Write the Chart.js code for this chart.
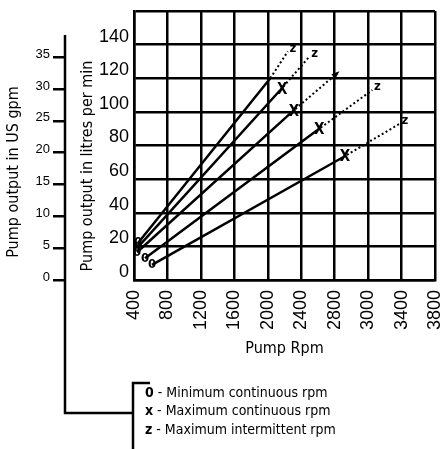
<!DOCTYPE html>
<html lang="en">
<head>
<meta charset="UTF-8">
<title>Pump output vs pump rpm</title>
<script src="https://cdn.jsdelivr.net/npm/chart.js"></script>
<style>
  body { margin: 0; background: #fff; }
  .chart-box { width: 444px; height: 449px; }
</style>
</head>
<body>
<div class="chart-box"><canvas id="pumpChart"></canvas></div>
<script>
// values, one entry per pump line (steepest first)
const minRpm     = [448, 436, 436, 532, 615];
const minLpm     = [22, 19, 16.5, 13, 9];
const maxContRpm = [2030, 2150, 2290, 2590, 2900];
const maxContLpm = [120, 113, 100, 89, 73];
const maxIntRpm  = [2240, 2500, 2830, 3250, 3580];
const maxIntLpm  = [136, 133, 123, 113, 93];

// tick labels as printed, one per grid column of 400 rpm (the printed 3000/3400/3800 are off by 200)
const rpmTicks = ['400', '800', '1200', '1600', '2000', '2400', '2800', '3000', '3400', '3800'];
const lpmTicks = [0, 20, 40, 60, 80, 100, 120, 140];
const gpmTicks = [0, 5, 10, 15, 20, 25, 30, 35];
const LITRES_PER_GALLON = 3.785;

// marks written at the line ends
const markX = ['', 'X', 'X', 'X', 'X'];
const markZ = ['z', 'z', '', 'z', 'z'];
const legendRows = [['0', 'Minimum continuous rpm'], ['x', 'Maximum continuous rpm'], ['z', 'Maximum intermittent rpm']];

const NARROW = "'Liberation Sans Narrow', 'DejaVu Sans Condensed', sans-serif";
const PLAIN = "'Liberation Sans', Arial, sans-serif";

const datasets = minRpm.map((r, i) => ({
    data: [
        { x: r, y: minLpm[i] },
        { x: maxContRpm[i], y: maxContLpm[i] },
        { x: maxIntRpm[i], y: maxIntLpm[i] }
    ],
    borderColor: '#000',
    borderWidth: 2.5,
    pointRadius: 0,
    tension: 0,
    segment: {
        borderDash: ctx => ctx.p0DataIndex === 1 ? [2, 2.5] : undefined,
        borderWidth: ctx => ctx.p0DataIndex === 1 ? 2 : 2.5
    }
}));

// 0 / X / z marks at the points
const markers = {
    id: 'markers',
    afterDatasetsDraw(chart) {
        const ctx = chart.ctx;
        ctx.save();
        ctx.fillStyle = '#000';
        ctx.textAlign = 'center';
        ctx.textBaseline = 'middle';
        chart.data.datasets.forEach((ds, i) => {
            const pts = chart.getDatasetMeta(i).data;
            ctx.font = 'bold 13px ' + NARROW;
            ctx.fillText('0', pts[0].x, pts[0].y);
            ctx.font = 'bold 15px ' + NARROW;
            if (markX[i]) ctx.fillText(markX[i], pts[1].x + 2, pts[1].y);
            ctx.font = 'bold 13px ' + NARROW;
            if (markZ[i]) {
                ctx.fillText(markZ[i], pts[2].x + 5, pts[2].y - 3);
            } else {
                // arrow head instead of a letter
                const a = Math.atan2(pts[2].y - pts[1].y, pts[2].x - pts[1].x);
                ctx.beginPath();
                ctx.moveTo(pts[2].x + 3 * Math.cos(a), pts[2].y + 3 * Math.sin(a));
                ctx.lineTo(pts[2].x - 5 * Math.cos(a) - 3 * Math.sin(a), pts[2].y - 5 * Math.sin(a) + 3 * Math.cos(a));
                ctx.lineTo(pts[2].x - 5 * Math.cos(a) + 3 * Math.sin(a), pts[2].y - 5 * Math.sin(a) - 3 * Math.cos(a));
                ctx.closePath();
                ctx.fill();
            }
        });
        ctx.restore();
    }
};

// gpm axis line, legend bracket, titles and legend text
const frame = {
    id: 'frame',
    afterDraw(chart) {
        const ctx = chart.ctx;
        const gpm = chart.scales.gpm;
        const H = chart.height;
        const ax = gpm.right;
        const bx = 133;
        ctx.save();
        ctx.strokeStyle = '#000';
        ctx.lineWidth = 2.5;
        ctx.beginPath();
        ctx.moveTo(ax, gpm.getPixelForValue(38.5));
        ctx.lineTo(ax, H - 36);
        ctx.lineTo(bx, H - 36);
        ctx.stroke();
        ctx.beginPath();
        ctx.moveTo(bx + 17, H - 66);
        ctx.lineTo(bx, H - 66);
        ctx.lineTo(bx, H);
        ctx.stroke();

        ctx.fillStyle = '#000';
        ctx.textAlign = 'center';
        ctx.textBaseline = 'middle';
        ctx.font = '16px ' + NARROW;
        ctx.save();
        ctx.translate(14, 172);
        ctx.rotate(-Math.PI / 2);
        ctx.fillText('Pump output in US gpm', 0, 0);
        ctx.restore();
        ctx.save();
        ctx.translate(88, 166);
        ctx.rotate(-Math.PI / 2);
        ctx.fillText('Pump output in litres per min', 0, 0);
        ctx.restore();
        const area = chart.chartArea;
        ctx.fillText('Pump Rpm', (area.left + area.right) / 2, area.bottom + 69);

        ctx.textAlign = 'left';
        legendRows.forEach((row, i) => {
            const y = H - 56 + i * 18.5;
            ctx.font = 'bold 14px ' + NARROW;
            ctx.fillText(row[0], 145, y);
            const w = ctx.measureText(row[0]).width;
            ctx.font = '14px ' + NARROW;
            ctx.fillText(' - ' + row[1], 145 + w, y);
        });
        ctx.restore();
    }
};

new Chart(document.getElementById('pumpChart'), {
    type: 'line',
    data: { datasets },
    options: {
        responsive: true,
        maintainAspectRatio: false,
        animation: false,
        layout: { padding: { top: 11, right: 9, bottom: 100, left: 0 } },
        plugins: { legend: { display: false }, tooltip: { enabled: false } },
        scales: {
            x: {
                type: 'linear',
                min: 400,
                max: 400 * rpmTicks.length,
                afterFit: s => { s.height = 69; s.paddingLeft = 0; s.paddingRight = 0; },
                ticks: {
                    stepSize: 400,
                    autoSkip: false,
                    minRotation: 90,
                    maxRotation: 90,
                    padding: 10,
                    color: '#000',
                    font: { family: PLAIN, size: 18 },
                    callback: (v, i) => rpmTicks[i]
                },
                grid: { color: '#000', lineWidth: 2.5, drawTicks: false },
                border: { color: '#000', width: 2.5 }
            },
            y: {
                min: 0,
                max: 160,
                weight: 0,
                afterFit: s => { s.width = 69; s.paddingTop = 0; s.paddingBottom = 0; },
                ticks: {
                    stepSize: 20,
                    padding: 5,
                    labelOffset: -8,
                    color: '#000',
                    font: { family: PLAIN, size: 18 },
                    callback: v => lpmTicks.includes(v) ? v : ''
                },
                grid: { color: '#000', lineWidth: 2.5, drawTicks: false },
                border: { color: '#000', width: 2.5 }
            },
            gpm: {
                type: 'linear',
                position: 'left',
                min: 0,
                max: 160 / LITRES_PER_GALLON,
                weight: 1,
                afterFit: s => { s.width = 65; s.paddingTop = 0; s.paddingBottom = 0; },
                afterBuildTicks: s => { s.ticks = gpmTicks.map(v => ({ value: v })); },
                ticks: {
                    padding: 3,
                    labelOffset: -3,
                    color: '#000',
                    font: { family: PLAIN, size: 13 }
                },
                grid: { drawOnChartArea: false, color: '#000', lineWidth: 2.5, tickLength: 12 },
                border: { display: false }
            }
        }
    },
    plugins: [markers, frame]
});
</script>
</body>
</html>
